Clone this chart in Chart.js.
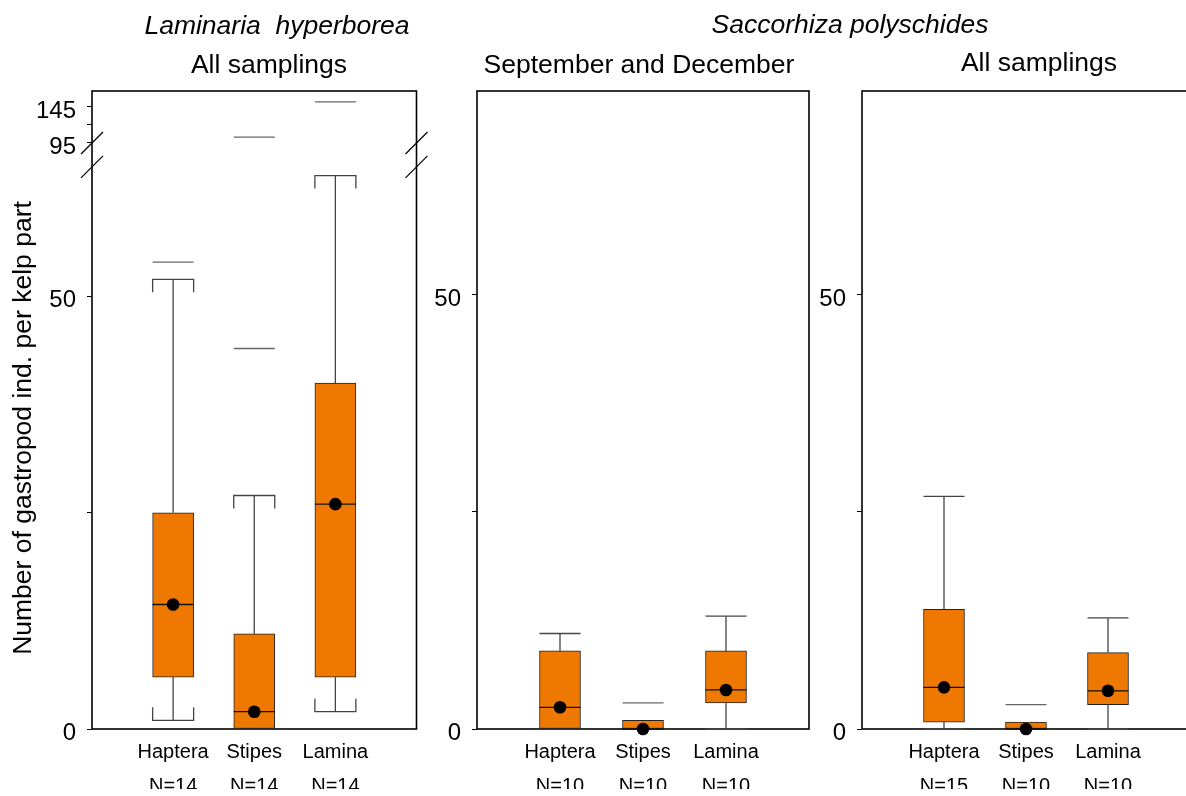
<!DOCTYPE html>
<html>
<head>
<meta charset="utf-8">
<title>Gastropods per kelp part</title>
<script src="https://cdn.jsdelivr.net/npm/chart.js@4.4.1/dist/chart.umd.min.js"></script>
<style>
  html, body { margin: 0; padding: 0; background: #fff; overflow: hidden; }
  #wrap { position: relative; width: 1186px; height: 796px; overflow: hidden; }
  #wrap canvas { position: absolute; left: 0; top: 0; }
</style>
</head>
<body>
<div id="wrap">
  <canvas id="laminaria" width="1200" height="796"></canvas>
  <canvas id="saccSepDec" width="1200" height="796"></canvas>
  <canvas id="saccAll" width="1200" height="796"></canvas>
</div>
<script>
// --- data ---
const parts = ['Haptera', 'Stipes', 'Lamina'];

// Laminaria hyperborea, all samplings
const lamN        = [14, 14, 14];
const lamQ1       = [6, 0, 6];
const lamQ3       = [25, 11, 40];
const lamMedian   = [14.4, 2, 26];
const lamMean     = [14.4, 2, 26];
const lamWhiskLo  = [1, 0, 2];
const lamWhiskHi  = [52, 27, 64];
const lamExtremes = [[54], [44, 103], [152]];
const lamTicks      = [0, 25, 50, 95, 120, 145];
const lamTickLabels = [0, 50, 95, 145];

// Saccorhiza polyschides, September and December
const sdN        = [10, 10, 10];
const sdQ1       = [0, 0, 3];
const sdQ3       = [9, 1, 9];
const sdMedian   = [2.5, 0, 4.5];
const sdMean     = [2.5, 0, 4.5];
const sdWhiskLo  = [0, 0, 0];
const sdWhiskHi  = [11, 1, 13];
const sdExtremes = [[], [3], []];

// Saccorhiza polyschides, all samplings
const saN        = [15, 10, 10];
const saQ1       = [0.8, 0, 2.8];
const saQ3       = [13.8, 0.8, 8.8];
const saMedian   = [4.8, 0, 4.4];
const saMean     = [4.8, 0, 4.4];
const saWhiskLo  = [0, 0, 0];
const saWhiskHi  = [26.8, 0.8, 12.8];
const saExtremes = [[], [2.8], []];

const saccTicks      = [0, 25, 50];
const saccTickLabels = [0, 50];

// --- styles ---
const FONT = '"Liberation Sans", Arial, Helvetica, sans-serif';
const ORANGE = 'rgb(238,120,0)';
Chart.defaults.font.family = FONT;
Chart.defaults.color = '#000';

// y axis with a break: 65..95 is squeezed and the range above it is compressed
const BREAK_STOPS = [[0, 0], [65, 0.881], [95, 0.9185], [167, 1]];

class BrokenLinearScale extends Chart.LinearScale {
  static id = 'brokenLinear';
  getPixelForValue(value) {
    const s = BREAK_STOPS;
    let i = 1;
    while (i < s.length - 1 && value > s[i][0]) i++;
    const [v0, f0] = s[i - 1], [v1, f1] = s[i];
    const f = f0 + (value - v0) / (v1 - v0) * (f1 - f0);
    return this.bottom - f * (this.bottom - this.top);
  }
  getValueForPixel(pixel) {
    const s = BREAK_STOPS;
    const f = (this.bottom - pixel) / (this.bottom - this.top);
    let i = 1;
    while (i < s.length - 1 && f > s[i][1]) i++;
    const [v0, f0] = s[i - 1], [v1, f1] = s[i];
    return v0 + (f - f0) / (f1 - f0) * (v1 - v0);
  }
}
Chart.register(BrokenLinearScale);

// whiskers, caps, medians and extreme marks on top of the boxes
const boxPlotMarks = {
  id: 'boxPlotMarks',
  afterDatasetDraw(chart, args) {
    if (args.index !== 0) return;
    const st = chart.data.datasets[0].boxStats;
    const { ctx } = chart;
    const y = chart.scales.y;
    const meta = chart.getDatasetMeta(0);
    ctx.save();
    ctx.lineWidth = 1.3;
    st.q1.forEach((q1, i) => {
      const bar = meta.data[i + 1];
      const cx = bar.x, half = bar.width / 2;
      const l = cx - half, r = cx + half;
      const line = (x1, y1, x2, y2, color) => {
        ctx.strokeStyle = color;
        ctx.beginPath(); ctx.moveTo(x1, y1); ctx.lineTo(x2, y2); ctx.stroke();
      };
      // upper whisker
      if (st.hi[i] > st.q3[i]) {
        const py = y.getPixelForValue(st.hi[i]);
        line(cx, y.getPixelForValue(st.q3[i]), cx, py, '#444');
        ctx.strokeStyle = '#444';
        ctx.beginPath();
        if (st.bracket) {
          ctx.moveTo(l, py + 13); ctx.lineTo(l, py); ctx.lineTo(r, py); ctx.lineTo(r, py + 13);
        } else {
          ctx.moveTo(l, py); ctx.lineTo(r, py);
        }
        ctx.stroke();
      }
      // lower whisker
      if (st.lo[i] < q1) {
        const py = y.getPixelForValue(st.lo[i]);
        line(cx, y.getPixelForValue(q1), cx, py, '#444');
        ctx.strokeStyle = '#444';
        ctx.beginPath();
        if (st.bracket) {
          ctx.moveTo(l, py - 13); ctx.lineTo(l, py); ctx.lineTo(r, py); ctx.lineTo(r, py - 13);
        } else {
          ctx.moveTo(l, py); ctx.lineTo(r, py);
        }
        ctx.stroke();
      }
      // extremes
      st.extremes[i].forEach(v => {
        const py = y.getPixelForValue(v);
        line(l, py, r, py, '#666');
      });
      // median
      const pm = y.getPixelForValue(st.median[i]);
      line(l, pm, r, pm, '#111');
    });
    ctx.restore();
  }
};

// plot frame and the axis-break slashes
const panelFrame = {
  id: 'panelFrame',
  beforeDatasetsDraw(chart, args, opts) {
    const { ctx, chartArea: a } = chart;
    ctx.save();
    ctx.strokeStyle = '#000';
    ctx.lineWidth = 1.6;
    ctx.strokeRect(a.left, a.top, a.right - a.left, a.bottom - a.top);
    if (opts.breaks) {
      ctx.lineWidth = 1.2;
      opts.breaks.forEach(v => {
        const py = chart.scales.y.getPixelForValue(v);
        [a.left, a.right].forEach(x => {
          ctx.beginPath();
          ctx.moveTo(x - 11, py + 11);
          ctx.lineTo(x + 11, py - 11);
          ctx.stroke();
        });
      });
    }
    ctx.restore();
  }
};

function textPlugin(items) {
  return {
    id: 'panelText',
    afterDraw(chart) {
      const ctx = chart.ctx;
      items.forEach(t => {
        ctx.save();
        ctx.font = t.font;
        ctx.fillStyle = '#000';
        ctx.textAlign = 'center';
        ctx.textBaseline = t.baseline || 'alphabetic';
        ctx.translate(t.x, t.y);
        if (t.rotate) ctx.rotate(t.rotate);
        ctx.fillText(t.text, 0, 0);
        ctx.restore();
      });
    }
  };
}

function makePanel(canvasId, cfg) {
  const labels = ['', ...parts.map((p, i) => [p, 'N=' + cfg.n[i]]), ''];
  const pad = v => [null, ...v, null];
  new Chart(document.getElementById(canvasId), {
    type: 'bar',
    data: {
      labels: labels,
      datasets: [{
        type: 'bar',
        data: pad(cfg.q1.map((q, i) => [q, cfg.q3[i]])),
        backgroundColor: ORANGE,
        borderColor: '#222',
        borderWidth: 1,
        borderSkipped: false,
        barThickness: 41,
        order: 1,
        boxStats: {
          q1: cfg.q1, q3: cfg.q3, median: cfg.median,
          lo: cfg.lo, hi: cfg.hi, extremes: cfg.extremes, bracket: cfg.bracket
        }
      }, {
        type: 'line',
        data: pad(cfg.mean),
        showLine: false,
        pointRadius: 6.3,
        pointBackgroundColor: '#000',
        pointBorderWidth: 0,
        clip: false,
        order: 0
      }]
    },
    options: {
      responsive: false,
      animation: false,
      layout: { padding: { left: cfg.left - 60, right: 1200 - cfg.right, top: 91, bottom: 7 } },
      plugins: {
        legend: { display: false },
        tooltip: { enabled: false },
        panelFrame: { breaks: cfg.breaks || null }
      },
      scales: {
        x: {
          type: 'category',
          offset: false,
          grid: { display: false, drawTicks: false },
          border: { display: false },
          ticks: {
            font: { size: 20, lineHeight: 1.68 },
            padding: 7,
            maxRotation: 0,
            autoSkip: false,
            color: '#000'
          },
          afterFit: s => { s.height = 60; }
        },
        y: {
          type: cfg.yType,
          min: 0,
          max: cfg.yMax,
          grid: { display: true, drawOnChartArea: false, drawTicks: true, tickLength: 5, color: '#000' },
          border: { display: false },
          ticks: {
            font: { size: 24 },
            padding: 11,
            labelOffset: 4,
            color: '#000',
            callback: v => cfg.tickLabels.includes(v) ? String(v) : ''
          },
          afterBuildTicks: s => { s.ticks = cfg.ticks.map(v => ({ value: v })); },
          afterFit: s => { s.width = 60; }
        }
      }
    },
    plugins: [boxPlotMarks, panelFrame, textPlugin(cfg.texts)]
  });
}

makePanel('laminaria', {
  n: lamN, q1: lamQ1, q3: lamQ3, median: lamMedian, mean: lamMean,
  lo: lamWhiskLo, hi: lamWhiskHi, extremes: lamExtremes, bracket: true,
  yType: 'brokenLinear', yMax: 167, ticks: lamTicks, tickLabels: lamTickLabels,
  breaks: [65, 95],
  left: 92, right: 416.5,
  texts: [
    { text: 'Laminaria  hyperborea', x: 277, y: 34, font: 'italic 26.5px ' + FONT },
    { text: 'All samplings', x: 269, y: 73, font: '26.5px ' + FONT },
    { text: 'Number of gastropod ind. per kelp part', x: 24, y: 428, font: '26.5px ' + FONT,
      rotate: -Math.PI / 2, baseline: 'middle' }
  ]
});

makePanel('saccSepDec', {
  n: sdN, q1: sdQ1, q3: sdQ3, median: sdMedian, mean: sdMean,
  lo: sdWhiskLo, hi: sdWhiskHi, extremes: sdExtremes, bracket: false,
  yType: 'linear', yMax: 73.5, ticks: saccTicks, tickLabels: saccTickLabels,
  left: 477, right: 809,
  texts: [
    { text: 'Saccorhiza polyschides', x: 850, y: 33, font: 'italic 26.5px ' + FONT },
    { text: 'September and December', x: 639, y: 73, font: '26.5px ' + FONT }
  ]
});

makePanel('saccAll', {
  n: saN, q1: saQ1, q3: saQ3, median: saMedian, mean: saMean,
  lo: saWhiskLo, hi: saWhiskHi, extremes: saExtremes, bracket: false,
  yType: 'linear', yMax: 73.5, ticks: saccTicks, tickLabels: saccTickLabels,
  left: 862, right: 1190,
  texts: [
    { text: 'All samplings', x: 1039, y: 71, font: '26.5px ' + FONT }
  ]
});
</script>
</body>
</html>
